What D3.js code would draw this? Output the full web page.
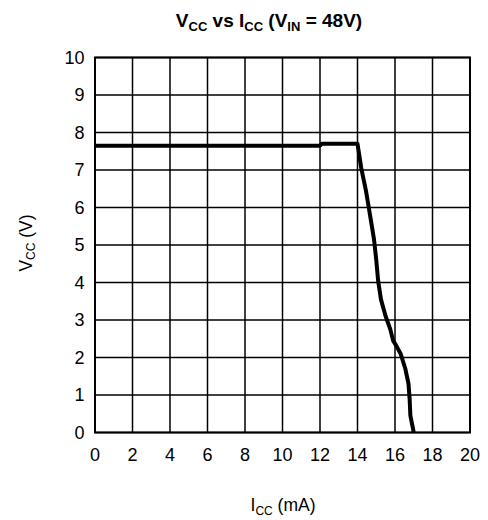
<!DOCTYPE html>
<html><head><meta charset="utf-8">
<script src="https://cdn.jsdelivr.net/npm/d3@7"></script>
<style>body{margin:0;background:#fff}svg{display:block;font-family:"Liberation Sans",Arial,sans-serif}</style>
</head><body>
<svg id="c" width="488" height="520"></svg>
<script>
const iccValues = [0, 12, 12.1, 14.0, 14.2, 14.45, 14.6, 14.75, 14.88, 15.0, 15.1, 15.25, 15.5, 15.75, 15.9, 16.05, 16.3, 16.55, 16.72, 16.78, 16.82, 17.0];
const vccValues = [7.65, 7.65, 7.7, 7.7, 7.05, 6.45, 6.0, 5.55, 5.15, 4.6, 4.05, 3.55, 3.1, 2.75, 2.45, 2.33, 2.1, 1.7, 1.3, 0.9, 0.45, 0.0];
const xTicks = [0, 2, 4, 6, 8, 10, 12, 14, 16, 18, 20];
const yTicks = [0, 1, 2, 3, 4, 5, 6, 7, 8, 9, 10];

const svg = d3.select("#c");
const x = d3.scaleLinear().domain([0, 20]).range([95, 470]);
const y = d3.scaleLinear().domain([0, 10]).range([432.5, 57.5]);

// grid
svg.append("g").selectAll("line").data(xTicks).join("line")
  .attr("x1", d => x(d)).attr("x2", d => x(d)).attr("y1", y(0)).attr("y2", y(10))
  .attr("stroke", "#000").attr("stroke-width", 1.5);
svg.append("g").selectAll("line").data(yTicks).join("line")
  .attr("x1", x(0)).attr("x2", x(20)).attr("y1", d => y(d)).attr("y2", d => y(d))
  .attr("stroke", "#000").attr("stroke-width", 1.5);
svg.append("rect").attr("x", x(0)).attr("y", y(10)).attr("width", x(20) - x(0)).attr("height", y(0) - y(10))
  .attr("fill", "none").attr("stroke", "#000").attr("stroke-width", 2);

// tick labels
svg.append("g").selectAll("text").data(yTicks).join("text")
  .attr("x", 84.5).attr("y", d => y(d)).attr("dy", "0.36em").attr("text-anchor", "end")
  .attr("font-size", 18).text(d => d);
svg.append("g").selectAll("text").data(xTicks).join("text")
  .attr("x", d => x(d)).attr("y", 461).attr("text-anchor", "middle")
  .attr("font-size", 18).text(d => d);

// curve
const pts = iccValues.map((v, i) => [v, vccValues[i]]);
svg.append("path").datum(pts)
  .attr("d", d3.line().x(d => x(d[0])).y(d => y(d[1])))
  .attr("fill", "none").attr("stroke", "#000").attr("stroke-width", 4).attr("stroke-linejoin", "round");

// title
const t = svg.append("text").attr("x", 269).attr("y", 26.5).attr("text-anchor", "middle")
  .attr("font-size", 19).attr("font-weight", "bold");
t.append("tspan").text("V");
t.append("tspan").attr("font-size", 13).attr("dy", 4).text("CC");
t.append("tspan").attr("dy", -4).text(" vs I");
t.append("tspan").attr("font-size", 13).attr("dy", 4).text("CC");
t.append("tspan").attr("dy", -4).text(" (V");
t.append("tspan").attr("font-size", 13).attr("dy", 4).text("IN");
t.append("tspan").attr("dy", -4).text(" = 48V)");

// x label
const xl = svg.append("text").attr("x", 283).attr("y", 511).attr("text-anchor", "middle").attr("font-size", 17.5);
xl.append("tspan").text("I");
xl.append("tspan").attr("font-size", 12).attr("dy", 4).text("CC");
xl.append("tspan").attr("dy", -4).text(" (mA)");

// y label
const yl = svg.append("text").attr("transform", "translate(32,243) rotate(-90)").attr("text-anchor", "middle").attr("font-size", 17.5);
yl.append("tspan").text("V");
yl.append("tspan").attr("font-size", 12).attr("dy", 3).text("CC");
yl.append("tspan").attr("dy", -3).text(" (V)");
</script>
</body></html>
